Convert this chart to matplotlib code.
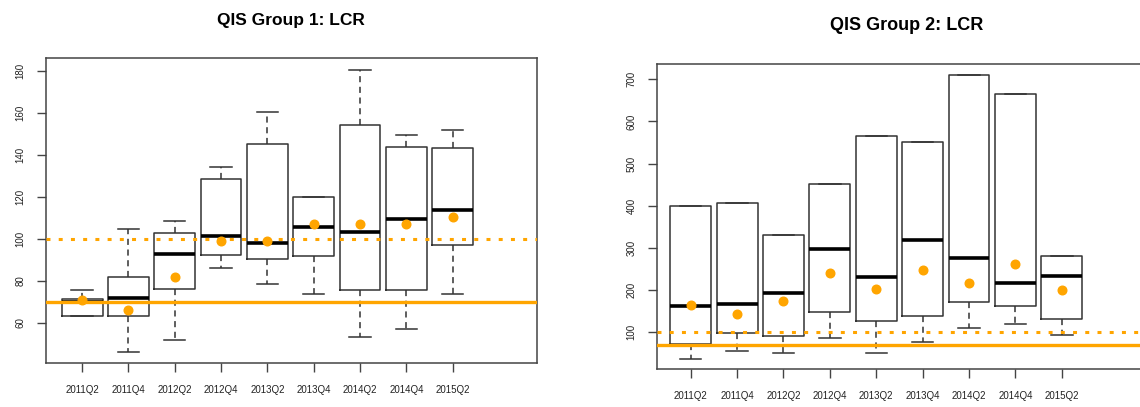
import matplotlib
matplotlib.use("Agg")
import matplotlib.pyplot as plt

quarters = ["2011Q2", "2011Q4", "2012Q2", "2012Q4", "2013Q2",
            "2013Q4", "2014Q2", "2014Q4", "2015Q2"]

# QIS Group 1: LCR
g1_whislo = [63.2, 46.4, 52.1, 86.0, 78.4, 74.0, 53.2, 57.0, 74.0]
g1_q1     = [63.2, 63.2, 76.0, 92.3, 90.4, 91.9, 75.5, 75.5, 97.1]
g1_med    = [70.0, 72.0, 93.0, 101.5, 98.2, 105.8, 103.1, 109.3, 113.7]
g1_q3     = [71.2, 81.7, 103.0, 128.7, 145.1, 120.1, 154.3, 143.7, 143.2]
g1_whishi = [75.5, 104.5, 108.4, 134.0, 160.4, 120.1, 180.5, 149.4, 152.0]
g1_mean   = [70.8, 66.2, 81.7, 98.8, 98.8, 106.9, 106.9, 106.9, 110.4]

# QIS Group 2: LCR
g2_whislo = [35.9, 55.7, 50.9, 85.0, 49.3, 75.5, 110.3, 119.0, 92.9]
g2_q1     = [72.3, 96.8, 89.7, 148.3, 126.9, 138.8, 170.4, 160.9, 130.1]
g2_med    = [162.5, 167.3, 191.8, 296.3, 230.6, 318.4, 274.9, 216.3, 233.8]
g2_q3     = [399.2, 405.5, 331.1, 451.4, 566.2, 551.9, 710.2, 664.3, 279.7]
g2_whishi = [399.2, 405.5, 331.1, 451.4, 566.2, 551.9, 710.2, 664.3, 279.7]
g2_mean   = [163.0, 143.5, 172.8, 240.9, 202.1, 248.0, 216.3, 260.7, 199.7]

threshold_min = 70
threshold_target = 100

ORANGE = "#FFA500"
EDGE = "#333333"

W, H = 1140, 407
fig = plt.figure(figsize=(W / 100, H / 100), dpi=100)
plt.rcParams['font.family'] = ['Liberation Sans', 'DejaVu Sans']


def make_stats(lo, q1, med, q3, hi, mean):
    return [dict(whislo=a, q1=b, med=c, q3=d, whishi=e, mean=f, fliers=[])
            for a, b, c, d, e, f in zip(lo, q1, med, q3, hi, mean)]


def draw(ax, stats, yticks, ylim, xlim):
    pos = list(range(1, len(stats) + 1))
    ax.bxp(stats, positions=pos, widths=0.88, capwidths=0.46,
           showfliers=False, showmeans=False, patch_artist=False,
           boxprops=dict(color=EDGE, linewidth=1.1),
           medianprops=dict(color="black", linewidth=2.6, solid_capstyle="butt"),
           whiskerprops=dict(color=EDGE, linewidth=1.1, linestyle=(0, (4, 3))),
           capprops=dict(color=EDGE, linewidth=1.1),
           zorder=3)
    ax.axhline(threshold_min, color=ORANGE, linewidth=2.4, zorder=4)
    ax.axhline(threshold_target, color=ORANGE, linewidth=2.2,
               linestyle=(0, (1.3, 2.7)), zorder=4)
    ax.plot(pos, [s["mean"] for s in stats], linestyle="none", marker="o",
            markerfacecolor=ORANGE, markeredgecolor=ORANGE, markersize=6.2,
            zorder=5)
    ax.set_xlim(*xlim)
    ax.set_ylim(*ylim)
    ax.set_yticks(yticks)
    ax.set_yticklabels([str(v) for v in yticks], rotation=90, va="center")
    ax.set_xticks(pos)
    ax.set_xticklabels(quarters)
    ax.tick_params(axis="both", labelsize=7, length=6.5, width=1,
                   color="#444444", labelcolor="#222222")
    ax.tick_params(axis="x", pad=9)
    ax.tick_params(axis="y", pad=8.5)
    for s in ax.spines.values():
        s.set_color("#444444")
        s.set_linewidth(1.1)
    return ax


# left panel
ax1 = fig.add_axes([46 / W, (H - 363) / H, 491 / W, 305 / H])
draw(ax1, make_stats(g1_whislo, g1_q1, g1_med, g1_q3, g1_whishi, g1_mean),
     [60, 80, 100, 120, 140, 160, 180], (41, 186), (0.22, 10.82))
fig.text(291 / W, 1 - 20 / H, "QIS Group 1: LCR", ha="center", va="center",
         fontsize=12.5, fontweight="bold")

# right panel (extends beyond the right figure edge as in the reference)
ax2 = fig.add_axes([657.3 / W, (H - 369.3) / H, 489 / W, 305.6 / H])
draw(ax2, make_stats(g2_whislo, g2_q1, g2_med, g2_q3, g2_whishi, g2_mean),
     [100, 200, 300, 400, 500, 600, 700], (11.4, 737), (0.28, 10.82))
fig.text(907 / W, 1 - 25 / H, "QIS Group 2: LCR", ha="center", va="center",
         fontsize=13, fontweight="bold")

fig.savefig("out.png", dpi=100)
